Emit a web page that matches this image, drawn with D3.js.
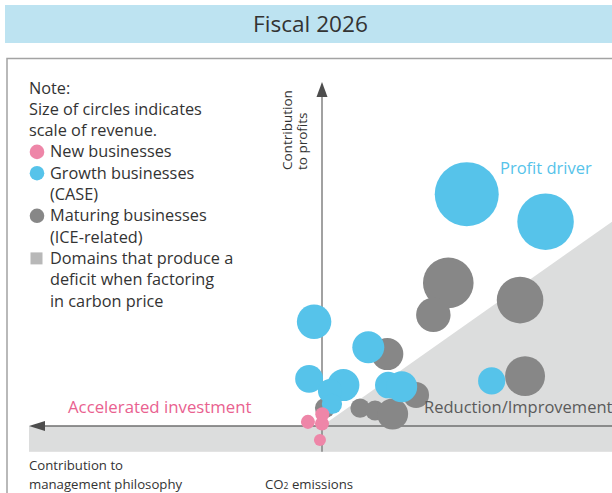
<!DOCTYPE html>
<html>
<head>
<meta charset="utf-8">
<script src="https://cdn.jsdelivr.net/npm/d3@7"></script>
<style>
  html, body { margin: 0; padding: 0; background: #fff; }
  svg { display: block; font-family: "Open Sans", sans-serif; }
</style>
</head>
<body>
<svg id="chart" width="612" height="493"></svg>
<script>
// Portfolio bubbles: x = CO2 emissions reduction/improvement, y = contribution to profits,
// area = scale of revenue.
const title = "Fiscal 2026";

const growthX   = [4.94, 7.63, -0.27, 1.58, -0.44, 0.73, 0.27, 0.34, 2.26, 2.72, 5.79];
const growthY   = [6.74, 5.94,  3.03, 2.29,  1.37, 1.19, 1.02, 0.64, 1.19, 1.14, 1.31];
const growthRev = [100,  78,    29,   25,    19,   25,   14,   10,   17,   23.5, 18];

const maturingX   = [4.31, 3.80, 6.76, 2.23, 3.21, 6.93, 1.30, 1.81, 2.41, 0.10];
const maturingY   = [4.16, 3.23, 3.66, 2.09, 0.90, 1.45, 0.52, 0.45, 0.35, 0.52];
const maturingRev = [62.5, 29,   53,   25,   16.5, 39,   9.2,  9.8,  23.5, 9.8];

const newX   = [-0.48, 0.01, 0.00, -0.07];
const newY   = [ 0.12, 0.34, 0.07, -0.41];
const newRev = [ 4.8,  4.8,  4.8,   3.5];

// Deficit domain when carbon price is applied: band below the x-axis plus wedge under this slope
const deficitSlope = 0.6;
const deficitFloor = -0.75;

const legendNote = ["Note:", "Size of circles indicates", "scale of revenue."];
const legendItems = [
  { key: "new",      lines: ["New businesses"] },
  { key: "growth",   lines: ["Growth businesses", "(CASE)"] },
  { key: "maturing", lines: ["Maturing businesses", "(ICE-related)"] },
  { key: "deficit",  lines: ["Domains that produce a", "deficit when factoring", "in carbon price"] }
];

const colors = { new: "#ee86a8", growth: "#56c3ea", maturing: "#878787", deficit: "#b8b8b8" };

const svg = d3.select("#chart");

const x = d3.scaleLinear().domain([-10, 10]).range([29, 615]);
const y = d3.scaleLinear().domain([0, 10]).range([426, 82]);
const r = d3.scaleSqrt().domain([0, 100]).range([0, 32]);

// Title bar
svg.append("rect").attr("x", 5).attr("y", 5).attr("width", 612).attr("height", 38)
  .attr("fill", "#bde3f1");
svg.append("text").attr("x", 310.5).attr("y", 32).attr("text-anchor", "middle")
  .attr("font-size", 22.6).attr("fill", "#333").text(title);

// Frame
svg.append("path").attr("d", "M7,493 V58.5 H612")
  .attr("fill", "none").attr("stroke", "#a3a3a3").attr("stroke-width", 1.5);

// Deficit areas
const xMax = x.domain()[1];
svg.append("rect")
  .attr("x", x(-10)).attr("y", y(0))
  .attr("width", x(xMax) - x(-10)).attr("height", y(deficitFloor) - y(0))
  .attr("fill", "#dcdddd");
svg.append("path")
  .attr("d", d3.line()([[x(0), y(0)], [x(xMax), y(xMax * deficitSlope)], [x(xMax), y(0)]]) + "Z")
  .attr("fill", "#dcdddd");

// Axes with arrowheads
svg.append("line").attr("x1", x(0)).attr("x2", x(0)).attr("y1", y(deficitFloor)).attr("y2", y(10) + 12)
  .attr("stroke", "#8a8a8a").attr("stroke-width", 1.6);
svg.append("path")
  .attr("d", `M${x(0)},${y(10)} L${x(0) - 5.5},${y(10) + 15} L${x(0) + 5.5},${y(10) + 15} Z`)
  .attr("fill", "#4d4d4d");
svg.append("line").attr("x1", x(-10) + 12).attr("x2", 612).attr("y1", y(0)).attr("y2", y(0))
  .attr("stroke", "#6f6f6f").attr("stroke-width", 1.4);
svg.append("path")
  .attr("d", `M${x(-10)},${y(0)} L${x(-10) + 16},${y(0) - 5} L${x(-10) + 16},${y(0) + 5} Z`)
  .attr("fill", "#4d4d4d");

// Bubbles: maturing first, growth on top, new businesses in front
function bubbles(xs, ys, revs, color) {
  svg.append("g").selectAll("circle")
    .data(xs.map((v, i) => ({ x: v, y: ys[i], rev: revs[i] })))
    .join("circle")
    .attr("cx", d => x(d.x)).attr("cy", d => y(d.y)).attr("r", d => r(d.rev))
    .attr("fill", color);
}
bubbles(maturingX, maturingY, maturingRev, colors.maturing);
bubbles(growthX, growthY, growthRev, colors.growth);
bubbles(newX, newY, newRev, colors.new);

// Quadrant labels
svg.append("text").attr("x", 500).attr("y", 174).attr("font-size", 16.5)
  .attr("fill", "#56c3ea").text("Profit driver");
svg.append("text").attr("x", 68).attr("y", 413).attr("font-size", 16.8)
  .attr("fill", "#e9618f").text("Accelerated investment");
svg.append("text").attr("x", 424).attr("y", 413).attr("font-size", 16.5)
  .attr("fill", "#5a5a5a").text("Reduction/Improvement");

// Axis titles
const yTitle = svg.append("text").attr("transform", "translate(292,170) rotate(-90)")
  .attr("font-size", 13.5).attr("fill", "#333");
yTitle.append("tspan").attr("x", 0).attr("y", 0).text("Contribution");
yTitle.append("tspan").attr("x", 0).attr("y", 15).text("to profits");

svg.append("text").attr("x", 29).attr("y", 470).attr("font-size", 13.2).attr("fill", "#333")
  .text("Contribution to");
svg.append("text").attr("x", 29).attr("y", 489).attr("font-size", 13.2).attr("fill", "#333")
  .text("management philosophy");
const co2 = svg.append("text").attr("x", 265).attr("y", 489).attr("font-size", 13.2).attr("fill", "#333");
co2.append("tspan").text("CO");
co2.append("tspan").attr("font-size", 8.5).text("2");
co2.append("tspan").text(" emissions");

// Legend
const lh = 21.3;
const legend = svg.append("g").attr("font-size", 16.3).attr("fill", "#333");
let row = 0;
legendNote.forEach(t => {
  legend.append("text").attr("x", 29).attr("y", 93.5 + lh * row).text(t);
  row++;
});
legendItems.forEach(item => {
  const cy = 93.5 + lh * row - 5.5;
  if (item.key === "deficit") {
    legend.append("rect").attr("x", 30.5).attr("y", cy - 6).attr("width", 12).attr("height", 12)
      .attr("fill", colors.deficit);
  } else {
    legend.append("circle").attr("cx", 37).attr("cy", cy).attr("r", 7.3).attr("fill", colors[item.key]);
  }
  item.lines.forEach(t => {
    legend.append("text").attr("x", 50).attr("y", 93.5 + lh * row).text(t);
    row++;
  });
});
</script>
</body>
</html>
